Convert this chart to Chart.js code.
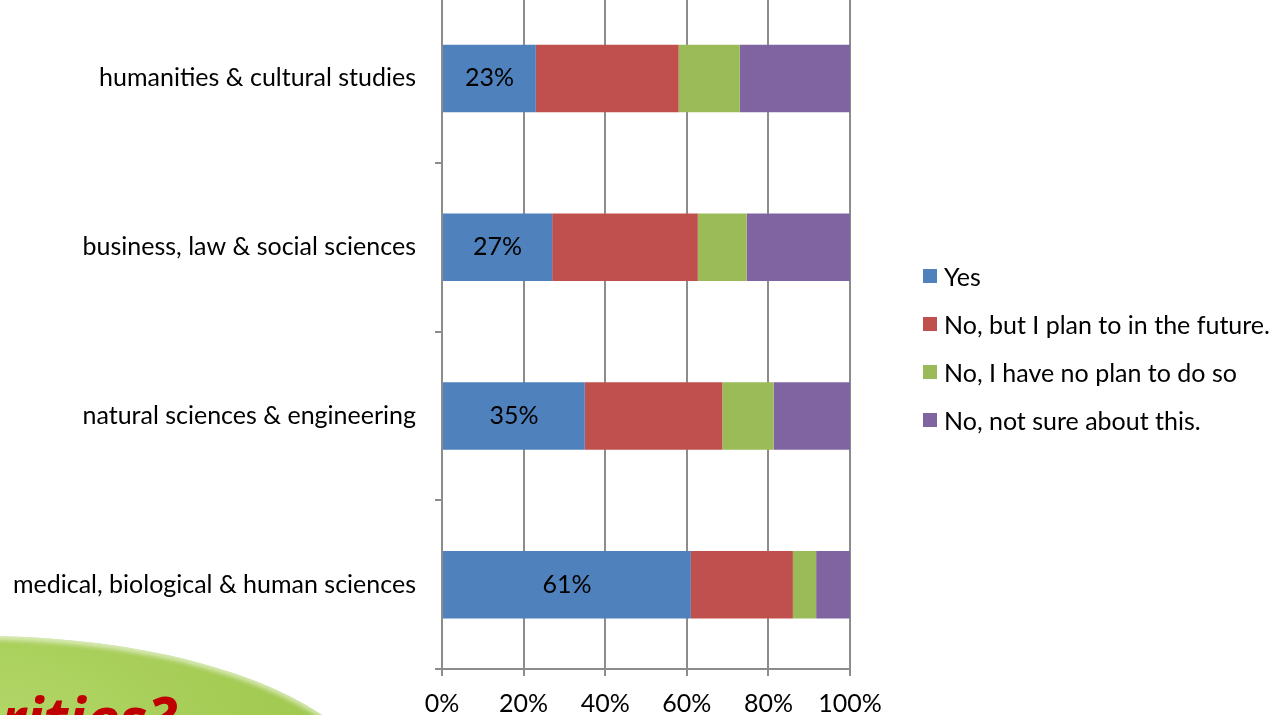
<!DOCTYPE html>
<html>
<head>
<meta charset="utf-8">
<script src="https://cdn.jsdelivr.net/npm/chart.js@4"></script>
<style>
  body { margin: 0; width: 1271px; height: 715px; overflow: hidden; background: #fff; position: relative; font-family: Lato, sans-serif; }
  #chart { position: absolute; left: 0; top: -20px; }
  #legend { position: absolute; left: 923px; top: 252px; }
  #legend div { height: 48px; display: flex; align-items: center; font-size: 25px; color: #000; white-space: nowrap; }
  #legend span { display: inline-block; width: 14px; height: 14px; margin-right: 7px; }
  /* green banner peeking in at the bottom left */
  #blob {
    position: absolute; left: -420px; top: 636px; width: 800px; height: 328px; border-radius: 50%;
    background: radial-gradient(ellipse at 50% 30%, #b4d86a 0%, #a5cc55 45%, #98c248 100%);
    box-shadow: inset 0 4px 4px rgba(255,255,255,0.55);
    overflow: hidden;
  }
  #blob p {
    position: absolute; margin: 0; left: 0; width: 595px; top: 41px; text-align: right;
    font: italic bold 60px "Open Sans", sans-serif; color: #c00000; white-space: nowrap;
  }
</style>
</head>
<body>
<div id="blob"><p>Priorities?</p></div>
<canvas id="chart" width="1271" height="735"></canvas>
<div id="legend"></div>
<script>
// DATA
const fields = [
  "humanities & cultural studies",
  "business, law & social sciences",
  "natural sciences & engineering",
  "medical, biological & human sciences"
];
const answers = ["Yes", "No, but I plan to in the future.", "No, I have no plan to do so", "No, not sure about this."];
const yes = [23, 27, 35, 61];
const planLater = [35, 35.7, 33.7, 25];
const noPlan = [15, 12, 12.6, 5.7];
const notSure = [27, 25.3, 18.7, 8.3];
const xTicks = [0, 20, 40, 60, 80, 100];

const colors = ["#4f81bd", "#c0504d", "#9bbb59", "#8064a2"];
const gridGray = "#8c8c8c";
const font = { family: "Lato, sans-serif", size: 25 };

// percentage text on the Yes segments
const yesLabels = {
  id: "yesLabels",
  afterDatasetsDraw(chart) {
    const ctx = chart.ctx;
    const meta = chart.getDatasetMeta(0);
    ctx.save();
    ctx.font = "25px Lato, sans-serif";
    ctx.fillStyle = "#000";
    ctx.textAlign = "center";
    ctx.textBaseline = "middle";
    meta.data.forEach((bar, i) => {
      const p = bar.getCenterPoint();
      ctx.fillText(Math.round(yes[i]) + "%", p.x, p.y);
    });
    ctx.restore();
  }
};

const chart = new Chart(document.getElementById("chart"), {
  type: "bar",
  data: {
    labels: fields,
    datasets: [yes, planLater, noPlan, notSure].map((d, i) => ({
      label: answers[i],
      data: d,
      backgroundColor: colors[i],
      borderWidth: 0,
      barPercentage: 1,
      categoryPercentage: 0.4
    }))
  },
  options: {
    indexAxis: "y",
    responsive: false,
    animation: false,
    devicePixelRatio: 1,
    layout: { padding: { top: 14, right: 421, left: 0, bottom: 0 } },
    plugins: { legend: { display: false }, tooltip: { enabled: false } },
    scales: {
      x: {
        stacked: true,
        min: 0,
        max: 100,
        afterBuildTicks: (s) => { s.ticks = xTicks.map(v => ({ value: v })); },
        afterFit: (s) => { s.height = 46; },
        ticks: { color: "#000", font, padding: 13, callback: (v) => v + "%" },
        grid: { color: gridGray, lineWidth: 2, tickLength: 7 },
        border: { color: gridGray, width: 2 }
      },
      y: {
        stacked: true,
        afterFit: (s) => { s.width = 442; s.paddingTop = 0; s.paddingBottom = 0; },
        ticks: { color: "#000", font, padding: 19 },
        grid: { drawOnChartArea: false, color: gridGray, lineWidth: 2, tickLength: 7 },
        border: { color: gridGray, width: 2 }
      }
    }
  },
  plugins: [yesLabels]
});

// LEGEND
const legend = document.getElementById("legend");
chart.data.datasets.forEach((ds) => {
  const row = document.createElement("div");
  const box = document.createElement("span");
  box.style.background = ds.backgroundColor;
  row.appendChild(box);
  row.appendChild(document.createTextNode(ds.label));
  legend.appendChild(row);
});
</script>
</body>
</html>
